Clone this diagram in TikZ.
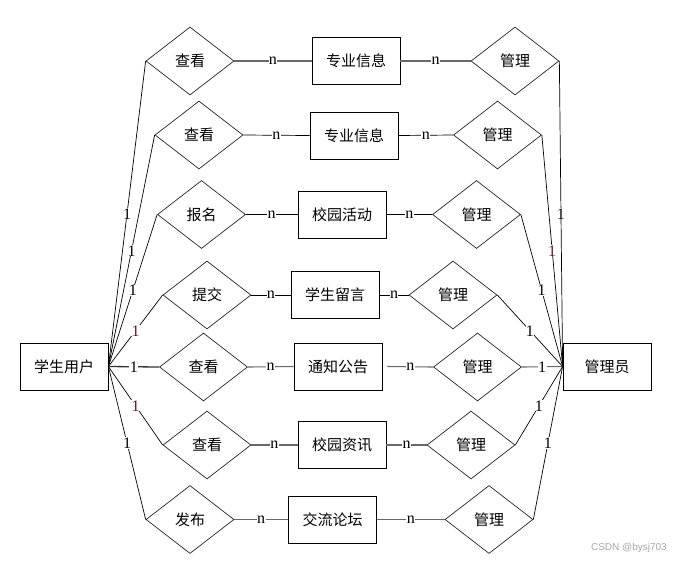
\documentclass[tikz,border=0pt]{standalone}
\usepackage{fontspec}
\setmainfont{Liberation Serif}
\newfontfamily\cjk{Noto Sans CJK SC}
\newfontfamily\wmfont{Liberation Sans}
\usetikzlibrary{shapes.geometric}
\definecolor{labred}{RGB}{95,20,55}
\definecolor{lgray}{RGB}{105,105,105}
\tikzset{
  ent/.style={draw=black, line width=0.8pt, rectangle, minimum width=88pt, minimum height=47pt, inner sep=0pt, font=\cjk\fontsize{15}{17}\selectfont},
  rel/.style={draw=black!85, line width=0.7pt, diamond, aspect=1.3, minimum width=88pt, minimum height=68pt, inner sep=0pt, font=\cjk\fontsize{15}{17}\selectfont},
  conn/.style={draw=black, line width=0.7pt},
  gconn/.style={draw=lgray, line width=1.1pt},
  lab/.style={fill=white, inner sep=0.4pt, font=\fontsize{16}{16}\selectfont, pos=0.5}
}
\begin{document}
\begin{tikzpicture}[x=1pt,y=-1pt]
\useasboundingbox (0,0) rectangle (676,563);
% main entities
\node[ent] (stu) at (64,366.5) {学生用户};
\node[ent] (adm) at (607,366.5) {管理员};
% left relationships
\node[rel] (l1) at (190,61) {查看};
\node[rel] (l2) at (199,135) {查看};
\node[rel] (l3) at (201.5,214.5) {报名};
\node[rel] (l4) at (207,295) {提交};
\node[rel] (l5) at (203.5,367) {查看};
\node[rel] (l6) at (207,445) {查看};
\node[rel] (l7) at (190,519.5) {发布};
% middle entities
\node[ent] (e1) at (356,61) {专业信息};
\node[ent] (e2) at (354,135.5) {专业信息};
\node[ent] (e3) at (342,214.5) {校园活动};
\node[ent] (e4) at (335,295) {学生留言};
\node[ent] (e5) at (338,366.5) {通知公告};
\node[ent] (e6) at (342,445) {校园资讯};
\node[ent] (e7) at (332.5,519.5) {交流论坛};
% right relationships
\node[rel] (r1) at (515,61) {管理};
\node[rel] (r2) at (497.5,135) {管理};
\node[rel] (r3) at (476.5,214.5) {管理};
\node[rel] (r4) at (453,295) {管理};
\node[rel] (r5) at (477.5,367) {管理};
\node[rel] (r6) at (471,445) {管理};
\node[rel] (r7) at (489,519.5) {管理};
% student to left relationships
\draw[conn] (stu.east) -- node[lab]{1} (l1.west);
\draw[conn] (stu.east) -- node[lab]{1} (l2.west);
\draw[conn] (stu.east) -- node[lab]{1} (l3.west);
\draw[conn] (stu.east) -- node[lab,text=labred]{1} (l4.west);
\draw[conn,line width=1.3pt,draw=black!80] (stu.east) -- node[lab]{1} (l5.west);
\draw[conn] (stu.east) -- node[lab,text=labred]{1} (l6.west);
\draw[conn] (stu.east) -- node[lab]{1} (l7.west);
% left relationships to entities
\draw[gconn] (l1.east) -- node[lab]{n} (e1.west);
\draw[conn] (l2.east) -- node[lab]{n} (e2.west);
\draw[conn] (l3.east) -- node[lab]{n} (e3.west);
\draw[conn] (l4.east) -- node[lab]{n} (e4.west);
\draw[gconn] (l5.east) -- node[lab]{n} (e5.west);
\draw[gconn] (l6.east) -- node[lab]{n} (e6.west);
\draw[gconn] (l7.east) -- node[lab]{n} (e7.west);
% entities to right relationships
\draw[gconn] (e1.east) -- node[lab]{n} (r1.west);
\draw[conn] (e2.east) -- node[lab]{n} (r2.west);
\draw[conn] (e3.east) -- node[lab]{n} (r3.west);
\draw[conn] (e4.east) -- node[lab]{n} (r4.west);
\draw[gconn] ([xshift=5pt]e5.east) -- node[lab]{n} (r5.west);
\draw[gconn] (e6.east) -- node[lab]{n} (r6.west);
\draw[gconn] (e7.east) -- node[lab]{n} (r7.west);
% right relationships to admin
\draw[conn] (r1.east) -- node[lab]{1} (adm.west);
\draw[conn] (r2.east) -- node[lab,text=labred]{1} (adm.west);
\draw[conn] (r3.east) -- node[lab]{1} (adm.west);
\draw[conn] (r4.east) -- node[lab]{1} (adm.west);
\draw[gconn] (r5.east) -- node[lab]{1} (adm.west);
\draw[conn] (r6.east) -- node[lab]{1} (adm.west);
\draw[conn] (r7.east) -- node[lab]{1} (adm.west);
% watermark
\node[text=black!35, font=\wmfont\fontsize{10}{12}\selectfont, anchor=east, inner sep=0pt] (wm) at (667,548) {CSDN @bysj703};
\end{tikzpicture}
\end{document}
